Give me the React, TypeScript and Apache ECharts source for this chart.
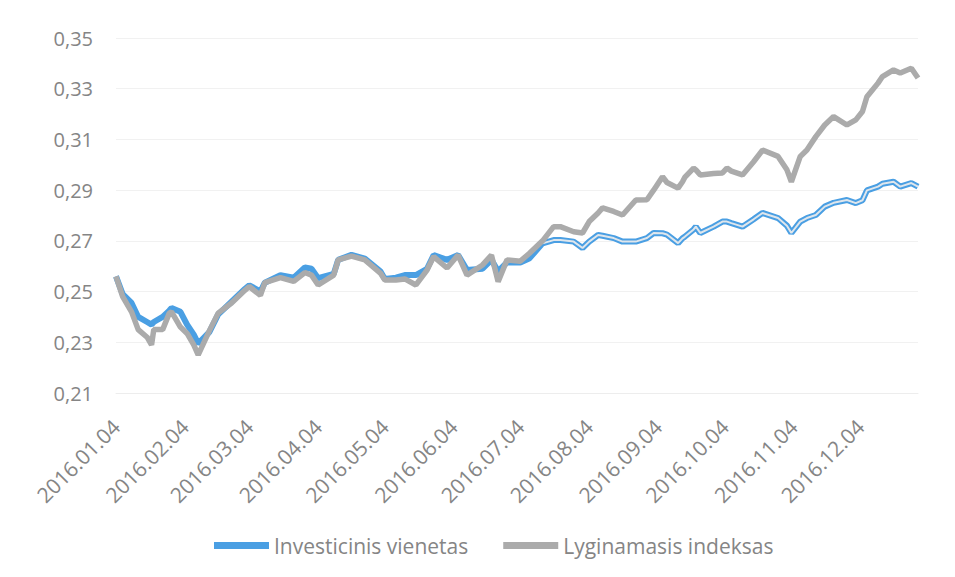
import React, { useEffect, useRef } from "react";
import * as echarts from "echarts";

const dates = [
  "2016-01-04","2016-01-07","2016-01-11","2016-01-14","2016-01-18","2016-01-20","2016-01-21","2016-01-25","2016-01-28","2016-01-29",
  "2016-02-02","2016-02-05","2016-02-08","2016-02-10","2016-02-15","2016-02-19","2016-02-25","2016-03-02","2016-03-04","2016-03-09",
  "2016-03-11","2016-03-18","2016-03-24","2016-03-29","2016-04-01","2016-04-04","2016-04-11","2016-04-13","2016-04-19","2016-04-25",
  "2016-05-02","2016-05-04","2016-05-09","2016-05-13","2016-05-18","2016-05-23","2016-05-26","2016-06-01","2016-06-06","2016-06-10",
  "2016-06-17","2016-06-21","2016-06-24","2016-06-28","2016-07-04","2016-07-08","2016-07-14","2016-07-19","2016-07-22","2016-07-28",
  "2016-08-01","2016-08-04","2016-08-08","2016-08-10","2016-08-15","2016-08-19","2016-08-25","2016-08-30","2016-09-02","2016-09-06",
  "2016-09-08","2016-09-13","2016-09-15","2016-09-16","2016-09-20","2016-09-21","2016-09-23","2016-09-29","2016-10-03","2016-10-05",
  "2016-10-07","2016-10-12","2016-10-17","2016-10-21","2016-10-28","2016-11-01","2016-11-03","2016-11-07","2016-11-10","2016-11-14",
  "2016-11-18","2016-11-22","2016-11-28","2016-12-02","2016-12-05","2016-12-07","2016-12-12","2016-12-14","2016-12-19","2016-12-22",
  "2016-12-27","2016-12-30"
];

const investicinis = [
  0.256,0.249,0.2455,0.240,0.238,0.237,0.238,0.240,0.2425,0.2435,
  0.242,0.237,0.233,0.2295,0.234,0.241,0.246,0.251,0.2525,0.250,
  0.2535,0.2565,0.2555,0.2595,0.259,0.2553,0.257,0.2625,0.2645,0.263,
  0.258,0.255,0.2555,0.2565,0.2565,0.259,0.2644,0.2625,0.2644,0.2585,
  0.259,0.2625,0.258,0.2615,0.2615,0.263,0.269,0.2703,0.2703,0.2697,
  0.2672,0.2697,0.2723,0.272,0.2711,0.2697,0.2697,0.2711,0.2731,0.273,
  0.2725,0.2691,0.271,0.2716,0.2745,0.2756,0.2731,0.2756,0.2776,0.2776,
  0.277,0.2756,0.2785,0.281,0.279,0.276,0.2731,0.2776,0.279,0.2802,
  0.2835,0.285,0.2861,0.2849,0.286,0.2899,0.2914,0.2925,0.2933,0.2914,
  0.2928,0.2914
];

const lyginamasis = [
  0.256,0.248,0.242,0.235,0.232,0.229,0.235,0.235,0.2415,0.242,
  0.236,0.2335,0.229,0.225,0.2345,0.2415,0.2455,0.2505,0.252,0.2485,
  0.2535,0.2555,0.254,0.2575,0.2565,0.2526,0.2565,0.2625,0.264,0.2625,
  0.2573,0.2546,0.2546,0.255,0.2526,0.2585,0.2638,0.2593,0.2644,0.2565,
  0.2605,0.2644,0.2539,0.2625,0.262,0.265,0.270,0.2756,0.2756,0.2736,
  0.2731,0.2776,0.281,0.283,0.2816,0.2802,0.2861,0.2862,0.290,0.2953,
  0.293,0.2908,0.2933,0.295,0.2987,0.298,0.296,0.2966,0.2968,0.2987,
  0.2975,0.296,0.3012,0.3058,0.3033,0.298,0.2933,0.3033,0.3058,0.3111,
  0.3157,0.319,0.3157,0.3177,0.321,0.3268,0.3322,0.3348,0.3374,0.3362,
  0.3381,0.3342
];

const tickDates = [
  "2016-01-04","2016-02-04","2016-03-04","2016-04-04","2016-05-04","2016-06-04",
  "2016-07-04","2016-08-04","2016-09-04","2016-10-04","2016-11-04","2016-12-04"
];

const seriesNames = ["Investicinis vienetas", "Lyginamasis indeksas"];

function toTs(s: string): number {
  const [y, m, d] = s.split("-").map(Number);
  return Date.UTC(y, m - 1, d);
}

function fmtDate(v: number): string {
  const d = new Date(v);
  const mm = String(d.getUTCMonth() + 1).padStart(2, "0");
  const dd = String(d.getUTCDate()).padStart(2, "0");
  return `${d.getUTCFullYear()}.${mm}.${dd}`;
}

const FONT = "Open Sans";
const TEXT_COLOR = "#858585";

export default function App() {
  const ref = useRef<HTMLDivElement>(null);

  useEffect(() => {
    document.body.style.margin = "0";
    const chart = echarts.init(ref.current!, null, { renderer: "svg" });
    const blueData = dates.map((d, i) => [toTs(d), investicinis[i]]);
    const grayData = dates.map((d, i) => [toTs(d), lyginamasis[i]]);
    const splitTs = toTs("2016-07-14");
    const innerData = dates.map((d, i) => [toTs(d), toTs(d) >= splitTs ? investicinis[i] : null]);
    const customTicks = tickDates.map(toTs);

    chart.setOption({
      animation: false,
      backgroundColor: "#ffffff",
      grid: { left: 116, right: 37, top: 38, bottom: 184 },
      legend: {
        data: seriesNames.map((n) => ({ name: n, icon: "rect" })),
        left: 209,
        top: 530,
        itemWidth: 55,
        itemHeight: 7,
        itemGap: 35,
        textStyle: { fontFamily: FONT, fontSize: 21, color: TEXT_COLOR },
      },
      xAxis: {
        type: "value",
        min: toTs("2016-01-04"),
        max: toTs("2016-12-30"),
        axisLine: { show: true, lineStyle: { color: "#ededed", width: 1 } },
        axisTick: { show: false, customValues: customTicks },
        splitLine: { show: false },
        axisLabel: {
          customValues: customTicks,
          rotate: 45,
          margin: 30,
          fontFamily: FONT,
          fontSize: 21,
          color: TEXT_COLOR,
          formatter: (v: number) => fmtDate(v),
        },
      },
      yAxis: {
        type: "value",
        min: 0.21,
        max: 0.35,
        interval: 0.02,
        axisLine: { show: false },
        axisTick: { show: false },
        splitLine: { show: true, lineStyle: { color: "#f1f1f1", width: 1 } },
        axisLabel: {
          margin: 23,
          fontFamily: FONT,
          fontSize: 20,
          color: TEXT_COLOR,
          formatter: (v: number) => v.toFixed(2).replace(".", ","),
        },
      },
      series: [
        {
          name: seriesNames[0],
          type: "line",
          data: blueData,
          showSymbol: false,
          symbol: "none",
          lineStyle: { color: "#4a9fe3", width: 6 },
          itemStyle: { color: "#4a9fe3" },
          z: 2,
        },
        {
          name: "inner",
          type: "line",
          data: innerData,
          showSymbol: false,
          symbol: "none",
          lineStyle: { color: "#dfe6ec", width: 2 },
          itemStyle: { color: "#dfe6ec" },
          z: 3,
          silent: true,
        },
        {
          name: seriesNames[1],
          type: "line",
          data: grayData,
          showSymbol: false,
          symbol: "none",
          lineStyle: { color: "#ababab", width: 5.5 },
          itemStyle: { color: "#ababab" },
          z: 4,
        },
      ],
    });
    return () => chart.dispose();
  }, []);

  return <div ref={ref} style={{ width: 955, height: 577 }} />;
}
